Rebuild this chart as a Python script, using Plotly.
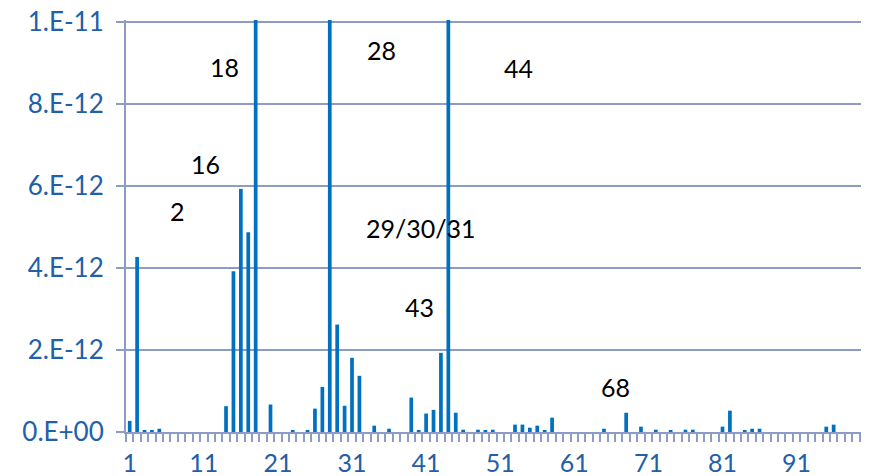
import plotly.graph_objects as go

# m/z categories 1..100
mz = list(range(1, 101))

# ion current values in units of 1e-12 (tall peaks 18, 28, 44 exceed axis max and are clipped)
current_e12 = [
    0.27, 4.27, 0.03, 0.03, 0.08, 0.0, 0.0, 0.0, -0.06, 0.0,
    0.0, 0.0, -0.06, 0.63, 3.92, 5.93, 4.87, 25.0, -0.06, 0.67,
    0.0, 0.0, 0.03, 0.0, 0.03, 0.57, 1.10, 30.0, 2.62, 0.64,
    1.81, 1.37, 0.0, 0.155, 0.0, 0.08, 0.0, -0.06, 0.84, 0.03,
    0.45, 0.54, 1.93, 20.0, 0.47, 0.056, -0.06, 0.056, 0.032, 0.056,
    -0.06, 0.0, 0.18, 0.18, 0.105, 0.155, 0.04, 0.35, -0.06, -0.06,
    0.0, 0.0, 0.0, 0.0, 0.08, -0.06, 0.0, 0.47, -0.06, 0.13,
    -0.06, 0.056, 0.0, 0.032, -0.06, 0.056, 0.056, 0.0, 0.0, 0.0,
    0.13, 0.52, 0.0, 0.04, 0.08, 0.08, 0.0, -0.06, 0.0, 0.0,
    0.0, 0.0, 0.0, -0.06, 0.13, 0.18, -0.06, -0.06, -0.06, 0.04,
]
current = [v * 1e-12 for v in current_e12]

x_tickvals = [1, 11, 21, 31, 41, 51, 61, 71, 81, 91]
y_tickvals = [0, 2e-12, 4e-12, 6e-12, 8e-12, 1e-11]
y_ticktext = ["0.E+00", "2.E-12", "4.E-12", "6.E-12", "8.E-12", "1.E-11"]

# peak labels
peak_labels = ["18", "28", "44", "16", "2", "29/30/31", "43", "68"]
label_x = [13.81, 34.96, 53.47, 11.18, 7.39, 40.36, 40.09, 66.58]
label_y = [8.90e-12, 9.32e-12, 8.88e-12, 6.54e-12, 5.39e-12, 4.98e-12, 3.05e-12, 1.10e-12]

GRID = "#8C9CC4"
BLUE_TXT = "#2160A9"

fig = go.Figure()
fig.add_trace(go.Bar(x=mz, y=current, marker=dict(color="#0070C0", line=dict(width=0))))

annotations = [
    dict(x=lx, y=ly, xref="x", yref="y", text=t, showarrow=False,
         font=dict(family="Lato", size=25, color="black"))
    for t, lx, ly in zip(peak_labels, label_x, label_y)
]

# page body adds an 8px offset, so the figure is sized to fit the window
fig.update_layout(
    width=861, height=468,
    margin=dict(l=118, r=2, t=12, b=44, autoexpand=False),
    paper_bgcolor="white", plot_bgcolor="white",
    bargap=0.5,
    showlegend=False,
    annotations=annotations,
    xaxis=dict(
        type="linear", range=[0.5, 100.5], automargin=False,
        tickmode="array", tickvals=x_tickvals,
        ticks="outside", ticklen=8, tickcolor="rgba(0,0,0,0)",
        tickfont=dict(family="Lato", size=25, color=BLUE_TXT),
        showgrid=False, zeroline=False,
        showline=True, linecolor=GRID, linewidth=2,
        minor=dict(tickmode="linear", tick0=0.5, dtick=1, ticks="outside",
                   ticklen=8, tickwidth=2, tickcolor=GRID, showgrid=False),
    ),
    yaxis=dict(
        range=[0, 1.005e-11], automargin=False,
        tickmode="array", tickvals=y_tickvals, ticktext=y_ticktext,
        ticks="outside", ticklen=8, tickwidth=2, tickcolor=GRID,
        ticklabelstandoff=7, ticklabeloverflow="allow",
        tickfont=dict(family="Lato", size=26, color=BLUE_TXT),
        showgrid=True, gridcolor=GRID, gridwidth=2,
        zeroline=False,
        showline=True, linecolor=GRID, linewidth=2,
    ),
)

fig.write_html("out.html")
